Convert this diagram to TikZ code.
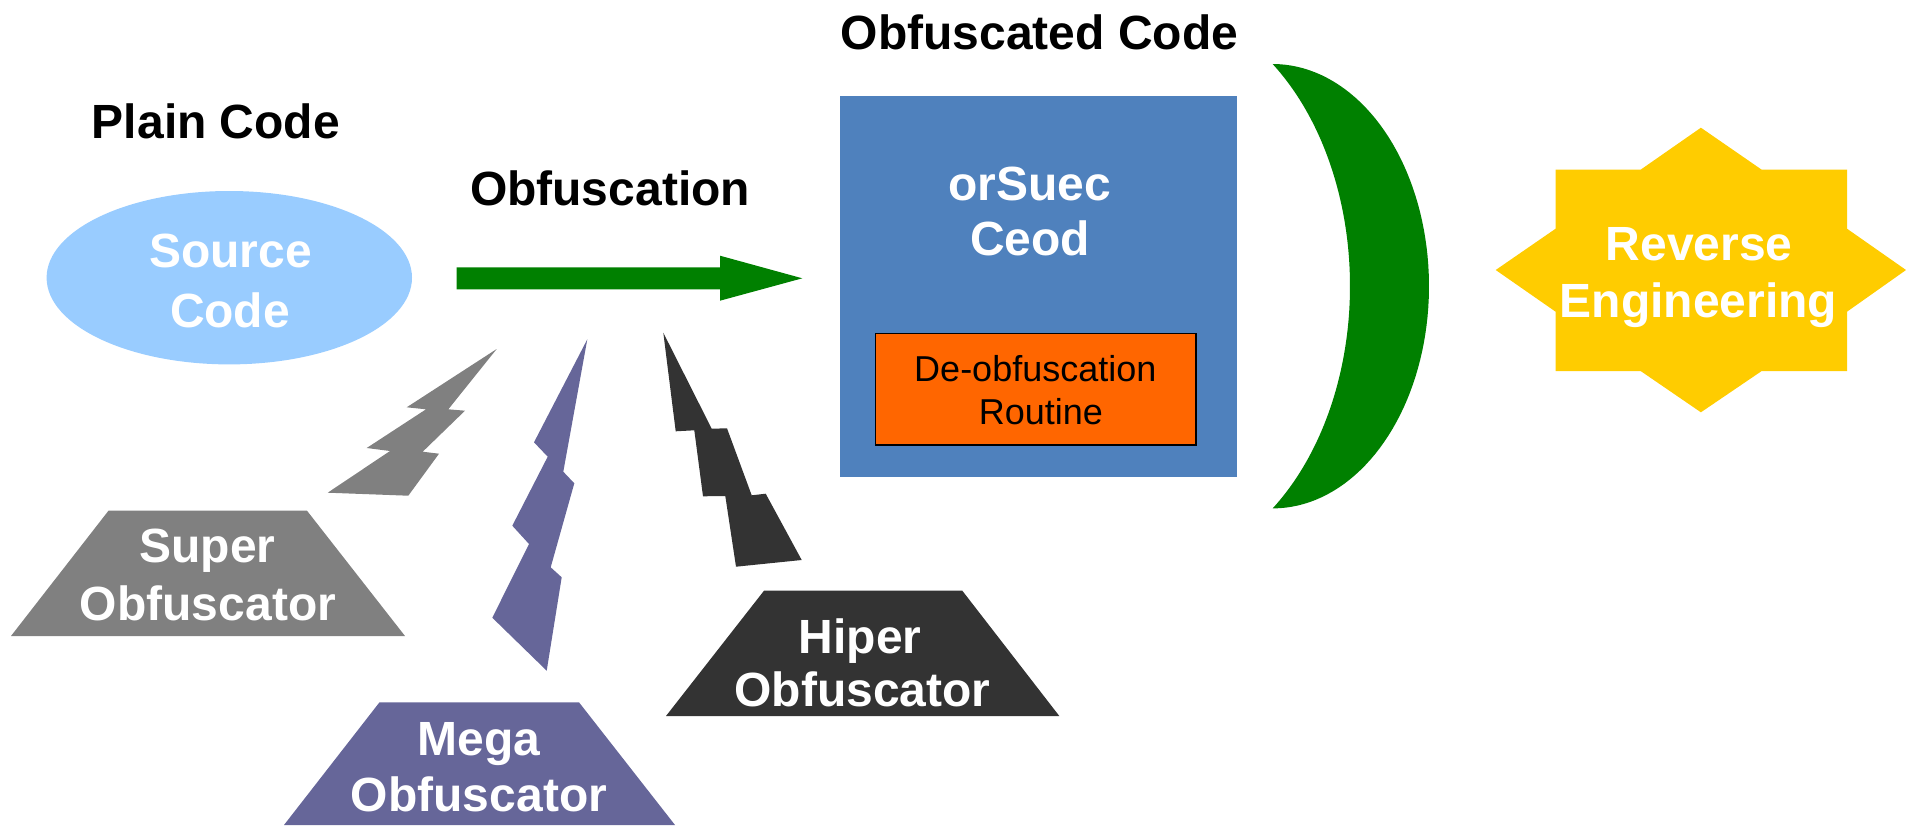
\documentclass[tikz,border=0pt]{standalone}
\usepackage{fontspec}
\setmainfont{Liberation Sans}
\definecolor{srcblue}{HTML}{99CCFF}
\definecolor{arrowgreen}{HTML}{008000}
\definecolor{codeblue}{HTML}{4F81BD}
\definecolor{routineorange}{HTML}{FF6600}
\definecolor{staryellow}{HTML}{FFCC00}
\definecolor{supergray}{HTML}{808080}
\definecolor{megapurple}{HTML}{666699}
\definecolor{hiperdark}{HTML}{333333}
\tikzset{
  bigtext/.style={anchor=base, inner sep=0pt, font=\fontsize{48}{57}\selectfont\bfseries},
  whitetext/.style={bigtext, text=white},
  smalltext/.style={anchor=base, inner sep=0pt, font=\fontsize{36}{43}\selectfont},
}
\begin{document}
\begin{tikzpicture}[x=1pt,y=-1pt]
\useasboundingbox (0,0) rectangle (1906,825);

% titles
\node[bigtext] (obfcodetitle) at (1039.5,49) {Obfuscated Code};
\node[bigtext] (plaintitle) at (216,138) {Plain Code};
\node[bigtext] (obftitle) at (610,205) {Obfuscation};

% source ellipse
\fill[srcblue] (229.3,277.7) ellipse [x radius=182.7, y radius=86.7];
\node[whitetext] (srcA) at (230.5,267.5) {Source};
\node[whitetext] (srcB) at (230,327) {Code};

% block arrow
\fill[arrowgreen] (456.7,267.3) -- (720,267.3) -- (720,255.7) -- (802.3,278.3)
  -- (720,300.7) -- (720,289.3) -- (456.7,289.3) -- cycle;

% obfuscated code box
\fill[codeblue] (840,96) rectangle (1236.7,476.7);
\node[whitetext] (obfA) at (1029.7,200) {orSuec};
\node[whitetext] (obfB) at (1030,255.7) {Ceod};
\filldraw[fill=routineorange, draw=black, line width=1.5pt] (875.7,333.7) rectangle (1196,445);
\node[smalltext] (routA) at (1035.3,381) {De-obfuscation};
\node[smalltext] (routB) at (1040.8,424.3) {Routine};

% crescent
\fill[arrowgreen]
  plot[domain=-90:90, samples=80] ({1272.7+156.3*cos(\x)},{286.2+222.2*sin(\x)})
  -- plot[domain=52.2:-52.2, samples=80] ({1150+200*cos(\x)},{286.2+281.3*sin(\x)})
  -- cycle;

% star
\fill[staryellow] (1700.9,127.7) -- (1761.7,169.7) -- (1847,169.7) -- (1847,228.7)
  -- (1906,270) -- (1847,311.7) -- (1847,371) -- (1761.7,371) -- (1700.9,412.3)
  -- (1640.6,371) -- (1555.6,371) -- (1555.6,311.7) -- (1495.7,270) -- (1555.6,228.7)
  -- (1555.6,169.7) -- (1640.6,169.7) -- cycle;
\node[whitetext] (revA) at (1699.2,260) {Reverse};
\node[whitetext] (revB) at (1698.4,317.7) {Engineering};

% lightning bolts
\fill[supergray] (496.7,349) -- (448.3,409.3) -- (465,410.7) -- (422.7,451.7) -- (439,453.7)
  -- (408.3,495.7) -- (327.7,492.7) -- (390,451) -- (366.7,448) -- (426,409.3) -- (406.7,407.3) -- cycle;
\fill[megapurple] (587.3,339.3) -- (563.3,471.7) -- (574.3,483.3) -- (550.7,567.3) -- (561.7,577.3)
  -- (546.7,670.7) -- (492.3,617.7) -- (529,544) -- (512.3,525.7) -- (547.7,456.7) -- (534,442.3) -- cycle;
\fill[hiperdark] (663.3,332.7) -- (711.7,428.7) -- (727,428.3) -- (751.7,495.3) -- (765.7,493.7)
  -- (801.7,560) -- (736,566.7) -- (725.3,496) -- (703,496.3) -- (694.3,430.3) -- (675.7,431.3) -- cycle;

% obfuscator trapezoids
\fill[supergray] (108.5,510.7) -- (307,510.7) -- (405,636) -- (11,636) -- cycle;
\node[whitetext] (superA) at (207.6,562.7) {Super};
\node[whitetext] (superB) at (208,620) {Obfuscator};

\fill[megapurple] (379.5,702.3) -- (579,702.3) -- (675,825) -- (284,825) -- cycle;
\node[whitetext] (megaA) at (479.2,755) {Mega};
\node[whitetext] (megaB) at (479,811.7) {Obfuscator};

\fill[hiperdark] (764,590.7) -- (962.3,590.7) -- (1059.3,716) -- (666,716) -- cycle;
\node[whitetext] (hiperA) at (860.3,653) {Hiper};
\node[whitetext] (hiperB) at (862.5,706.5) {Obfuscator};
\end{tikzpicture}
\end{document}
